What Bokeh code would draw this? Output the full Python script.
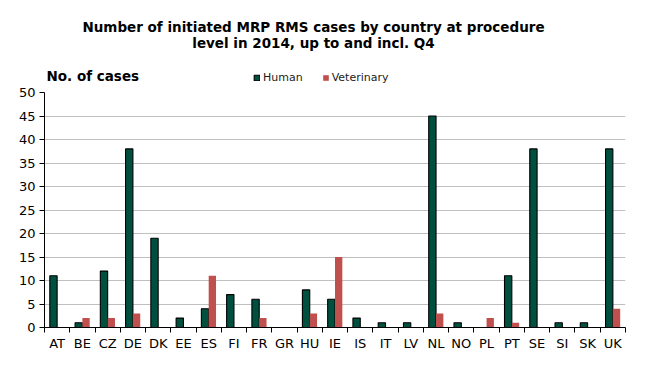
import numpy as np
from bokeh.plotting import figure
from bokeh.models import (Range1d, LinearAxis, FixedTicker,
                          ColumnDataSource, Legend, LegendItem, Label)
from bokeh.embed import file_html
from bokeh.resources import INLINE

countries = ["AT", "BE", "CZ", "DE", "DK", "EE", "ES", "FI", "FR", "GR", "HU", "IE",
             "IS", "IT", "LV", "NL", "NO", "PL", "PT", "SE", "SI", "SK", "UK"]
human = [11, 1, 12, 38, 19, 2, 4, 7, 6, 0, 8, 6, 2, 1, 1, 45, 1, 0, 11, 38, 1, 1, 38]
veterinary = [0, 2, 2, 3, 0, 0, 11, 0, 2, 0, 3, 15, 0, 0, 0, 3, 0, 2, 1, 0, 0, 0, 4]
y_ticks = [0, 5, 10, 15, 20, 25, 30, 35, 40, 45, 50]
grid_ticks = [5, 10, 15, 20, 25, 30, 35, 40, 45]
title_lines = ["Number of initiated MRP RMS cases by country at procedure",
               "level in 2014, up to and incl. Q4"]
y_title = "No. of cases"

FONT = "DejaVu Sans"
HUMAN_C = "#00503F"
VET_C = "#C0504D"

# layout (pixels): frame spans the whole top so that the headings can sit inside it
W, H = 630, 358
LEFT, RIGHT, BOTTOM = 44, 5, 31
AXIS_TOP_PX = 92            # where the value 50 sits
frame_h = H - BOTTOM
y_max = max(y_ticks)
y_end = y_max * frame_h / (frame_h - AXIS_TOP_PX)

n = len(countries)
centers = np.arange(n) + 0.5
src = ColumnDataSource(dict(xh=centers - 0.145, xv=centers + 0.145, human=human, vet=veterinary))

p = figure(width=W, height=H, output_backend="svg", toolbar_location=None,
           x_range=Range1d(0, n), y_range=Range1d(0, y_end),
           x_axis_location=None, min_border_left=LEFT, min_border_right=RIGHT,
           min_border_top=0, min_border_bottom=BOTTOM)
p.outline_line_color = None
p.background_fill_color = "white"
p.border_fill_color = "white"

tick_axis = LinearAxis(ticker=FixedTicker(ticks=list(range(n + 1))),
                       major_tick_in=0, major_tick_out=5, minor_tick_out=0, minor_tick_in=0,
                       major_label_text_font_size="0px", major_label_standoff=0,
                       axis_line_color="black", major_tick_line_color="black")
tick_axis.major_label_overrides = {i: "" for i in range(n + 1)}
p.add_layout(tick_axis, "below")
lab_axis = LinearAxis(ticker=FixedTicker(ticks=list(centers)),
                      major_tick_in=0, major_tick_out=0, minor_tick_out=0, minor_tick_in=0,
                      axis_line_color=None, major_tick_line_color=None,
                      major_label_text_font=FONT, major_label_text_font_size="13px",
                      major_label_text_color="black", major_label_standoff=3)
lab_axis.major_label_overrides = {float(c): name for c, name in zip(centers, countries)}
p.add_layout(lab_axis, "below")

p.yaxis.ticker = FixedTicker(ticks=y_ticks)
p.yaxis.bounds = (0, y_max)
p.yaxis.major_tick_in = 0
p.yaxis.major_tick_out = 5
p.yaxis.minor_tick_line_color = None
p.yaxis.axis_line_color = "black"
p.yaxis.major_tick_line_color = "black"
p.yaxis.major_label_text_font = FONT
p.yaxis.major_label_text_font_size = "13px"
p.yaxis.major_label_text_color = "black"
p.yaxis.major_label_standoff = 4

p.xgrid.grid_line_color = None
p.ygrid.ticker = FixedTicker(ticks=grid_ticks)
p.ygrid.grid_line_color = "#C0C0C0"
p.ygrid.grid_line_width = 1

r1 = p.vbar(x="xh", top="human", width=0.29, source=src,
            fill_color=HUMAN_C, line_color="black", line_width=1.1)
r2 = p.vbar(x="xv", top="vet", width=0.29, source=src,
            fill_color=VET_C, line_color=None)

# frame-relative screen positions (x from frame left, y from frame bottom)
legend = Legend(items=[LegendItem(label="Human", renderers=[r1]),
                       LegendItem(label="Veterinary", renderers=[r2])],
                orientation="horizontal", location=(209, frame_h - 84),
                label_text_font=FONT, label_text_font_size="11px", label_text_color="#222222",
                glyph_width=7, glyph_height=7, label_height=12, label_standoff=3,
                spacing=19, padding=0, margin=0,
                border_line_color=None, background_fill_alpha=0)
p.add_layout(legend, "center")

p.add_layout(Label(x=269, y=frame_h - 26, x_units="screen", y_units="screen", text=title_lines[0],
                   text_font=FONT, text_font_style="bold", text_font_size="13.5px",
                   text_align="center", text_baseline="middle", text_color="black"))
p.add_layout(Label(x=269, y=frame_h - 42, x_units="screen", y_units="screen", text=title_lines[1],
                   text_font=FONT, text_font_style="bold", text_font_size="13.5px",
                   text_align="center", text_baseline="middle", text_color="black"))
p.add_layout(Label(x=2, y=frame_h - 75, x_units="screen", y_units="screen", text=y_title,
                   text_font=FONT, text_font_style="bold", text_font_size="13.5px",
                   text_align="left", text_baseline="middle", text_color="black"))

open("out.html", "w").write(file_html(p, INLINE))
